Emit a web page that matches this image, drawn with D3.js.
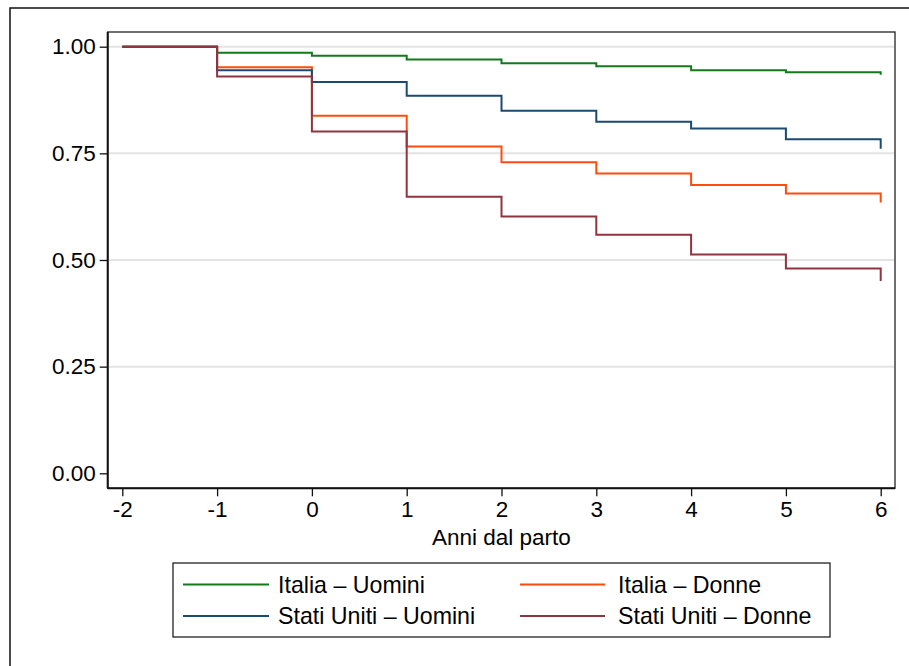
<!DOCTYPE html>
<html>
<head>
<meta charset="utf-8">
<script src="https://cdn.jsdelivr.net/npm/d3@7"></script>
<style>
  html, body { margin: 0; padding: 0; background: #fff; }
  svg { display: block; font-family: "Liberation Sans", Arial, Helvetica, sans-serif; }
</style>
</head>
<body>
<svg id="chart" width="909" height="666"></svg>
<script>
// ---- data ----
const years = [-2, -1, 0, 1, 2, 3, 4, 5, 6];
const italiaUomini     = [1.000, 0.986, 0.979, 0.970, 0.961, 0.954, 0.945, 0.940, 0.934];
const italiaDonne      = [1.000, 0.952, 0.838, 0.766, 0.729, 0.703, 0.676, 0.656, 0.635];
const statiUnitiUomini = [1.000, 0.945, 0.917, 0.885, 0.850, 0.824, 0.808, 0.783, 0.761];
const statiUnitiDonne  = [1.000, 0.930, 0.801, 0.648, 0.602, 0.559, 0.513, 0.480, 0.451];
const seriesNames = ["Italia – Uomini", "Italia – Donne", "Stati Uniti – Uomini", "Stati Uniti – Donne"];
const seriesColors = ["#13791a", "#ff4c0d", "#1b4a73", "#8e3540"];
const yTicks = [0, 0.25, 0.5, 0.75, 1];
const yTickLabels = ["0.00", "0.25", "0.50", "0.75", "1.00"];
const xTicks = [-2, -1, 0, 1, 2, 3, 4, 5, 6];
const xTitle = "Anni dal parto";

const seriesValues = [italiaUomini, italiaDonne, statiUnitiUomini, statiUnitiDonne];

// ---- layout ----
const svg = d3.select("#chart");
const plot = { left: 107.7, right: 895, top: 32, bottom: 488.3 };
const x = d3.scaleLinear().domain([-2, 6]).range([122.3, 880.7]);
const y = d3.scaleLinear().domain([0, 1]).range([473.3, 46.7]);
const FS = 22.5;
const LFS = 23.2;

// outer frame (extends beyond the window on the right and bottom)
svg.append("path")
  .attr("d", "M10,700 L10,8 L920,8")
  .attr("fill", "none").attr("stroke", "#111").attr("stroke-width", 1.5);

// plot region
svg.append("rect")
  .attr("x", plot.left).attr("y", plot.top)
  .attr("width", plot.right - plot.left).attr("height", plot.bottom - plot.top)
  .attr("fill", "#fff").attr("stroke", "#222").attr("stroke-width", 1.3);

// gridlines
svg.append("g").selectAll("line").data(yTicks.filter(d => d > 0)).join("line")
  .attr("x1", plot.left + 1).attr("x2", plot.right - 1)
  .attr("y1", d => y(d)).attr("y2", d => y(d))
  .attr("stroke", "#e3e3e3").attr("stroke-width", 2);

// series
const line = d3.line()
  .x((d, i) => x(years[i]))
  .y(d => y(d))
  .curve(d3.curveStepAfter);

svg.append("g").selectAll("path").data(seriesValues).join("path")
  .attr("d", d => line(d))
  .attr("fill", "none")
  .attr("stroke", (d, i) => seriesColors[i])
  .attr("stroke-width", 2)
  .attr("stroke-linejoin", "miter");

// axes
const yAxis = d3.axisLeft(y).tickValues(yTicks)
  .tickFormat((d, i) => yTickLabels[i]).tickSize(8).tickPadding(4);
const gy = svg.append("g").attr("transform", `translate(${plot.left},0)`).call(yAxis);
gy.select(".domain").attr("d", `M0,${plot.top}V${plot.bottom}`).attr("stroke", "#111").attr("stroke-width", 2);
gy.selectAll(".tick line").attr("stroke", "#111").attr("stroke-width", 1.3);
gy.selectAll(".tick text").attr("font-size", FS).attr("fill", "#000")
  .attr("font-family", "'Liberation Sans', Arial, sans-serif");

const xAxis = d3.axisBottom(x).tickValues(xTicks).tickFormat(d3.format("d")).tickSize(8).tickPadding(5);
const gx = svg.append("g").attr("transform", `translate(0,${plot.bottom})`).call(xAxis);
gx.select(".domain").attr("d", `M${plot.left},0H${plot.right}`).attr("stroke", "#111").attr("stroke-width", 2);
gx.selectAll(".tick line").attr("stroke", "#111").attr("stroke-width", 1.3);
gx.selectAll(".tick text").attr("font-size", FS).attr("fill", "#000")
  .attr("font-family", "'Liberation Sans', Arial, sans-serif")
  .text(d => d < 0 ? "-" + Math.abs(d) : String(d));

// x title
svg.append("text")
  .attr("x", (plot.left + plot.right) / 2).attr("y", 545)
  .attr("text-anchor", "middle").attr("font-size", FS).attr("fill", "#000")
  .text(xTitle);

// legend
const legend = svg.append("g");
legend.append("rect")
  .attr("x", 173).attr("y", 563).attr("width", 657).attr("height", 74)
  .attr("fill", "#fff").attr("stroke", "#222").attr("stroke-width", 1.3);
const legCols = [{ lx1: 183, lx2: 269, tx: 278 }, { lx1: 520, lx2: 605, tx: 618 }];
const legRows = [584.5, 616];
seriesNames.forEach((name, i) => {
  const c = legCols[i % 2], r = legRows[Math.floor(i / 2)];
  legend.append("line").attr("x1", c.lx1).attr("x2", c.lx2).attr("y1", r).attr("y2", r)
    .attr("stroke", seriesColors[i]).attr("stroke-width", 2);
  legend.append("text").attr("x", c.tx).attr("y", r + 8)
    .attr("font-size", LFS).attr("fill", "#000").text(name);
});
</script>
</body>
</html>
